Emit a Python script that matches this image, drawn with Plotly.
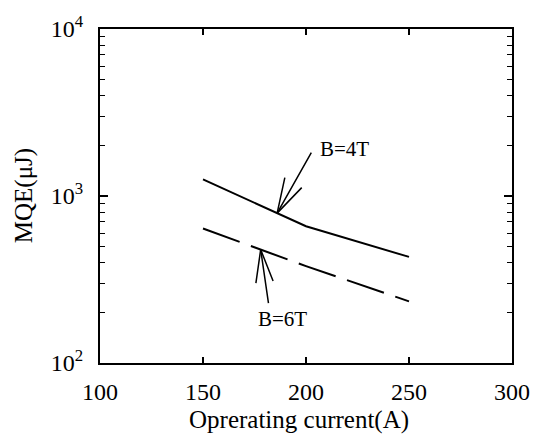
import numpy as np
import plotly.graph_objects as go

# Operating current (A) and minimum quench energy (uJ)
current = [150, 200, 250]
mqe_4t = [1258, 659, 432]
mqe_6t = [639, 380, 234]

x_ticks = [100, 150, 200, 250, 300]
y_major = [100, 1000, 10000]
y_major_text = ["10<sup>2</sup>", "10<sup>3</sup>", "10<sup>4</sup>"]
y_minor = [m * d for d in (100, 1000) for m in range(2, 10)]

FONT = "Liberation Serif"

fig = go.Figure()
fig.add_trace(go.Scatter(x=current, y=mqe_4t, mode="lines",
                         line=dict(color="black", width=2), name="B=4T"))
fig.add_trace(go.Scatter(x=current, y=mqe_6t, mode="lines",
                         line=dict(color="black", width=2, dash="39px,12px"),
                         name="B=6T"))


def on_curve(xs, ys, xq):
    """Point on a curve (log-interpolated) at current xq, in log10 units."""
    return float(np.interp(xq, xs, np.log10(ys)))


def pointer(x, ylog, shaft, barbs):
    """Line arrow with an open two-barb head ending at (x, ylog)."""
    out = []
    for ax, ay in [shaft] + barbs:
        out.append(dict(x=x, y=ylog, xref="x", yref="y", text="", showarrow=True,
                        arrowhead=0, arrowwidth=1.5, arrowcolor="black",
                        ax=ax, ay=ay, standoff=0, startstandoff=0))
    return out


annotations = []
tip4_x = 186
tip4_y = on_curve(current, mqe_4t, tip4_x)
annotations += pointer(tip4_x, tip4_y, (35, -62), [(8, -37), (26, -27)])
annotations.append(dict(x=tip4_x, y=tip4_y, xref="x", yref="y", text="B=4T",
                        showarrow=False, xshift=67, yshift=64,
                        font=dict(family=FONT, size=21, color="black")))

tip6_x = 178
tip6_y = on_curve(current, mqe_6t, tip6_x)
annotations += pointer(tip6_x, tip6_y, (8, 55), [(-5, 35), (13, 33)])
annotations.append(dict(x=tip6_x, y=tip6_y, xref="x", yref="y", text="B=6T",
                        showarrow=False, xshift=22, yshift=-69,
                        font=dict(family=FONT, size=21, color="black")))

# axis titles
annotations.append(dict(x=0.482, y=-0.17, xref="paper", yref="paper",
                        text="Oprerating current(A)", showarrow=False,
                        xanchor="center", yanchor="middle",
                        font=dict(family=FONT, size=25, color="black")))
annotations.append(dict(x=-0.184, y=0.5, xref="paper", yref="paper",
                        text="MQE(μJ)", showarrow=False, textangle=-90,
                        xanchor="center", yanchor="middle",
                        font=dict(family=FONT, size=25, color="black")))

fig.update_layout(
    width=542, height=435,
    margin=dict(l=100, r=29, t=18, b=72),
    paper_bgcolor="white", plot_bgcolor="white",
    showlegend=False,
    font=dict(family=FONT, size=24, color="black"),
    annotations=annotations,
)
fig.update_xaxes(
    range=[100, 300], tickmode="array", tickvals=x_ticks,
    ticks="inside", ticklen=6, tickwidth=1.5, tickcolor="black",
    showline=True, linecolor="black", linewidth=2, mirror="ticks",
    showgrid=False, zeroline=False, ticklabelstandoff=6,
    tickfont=dict(family=FONT, size=24, color="black"),
)
fig.update_yaxes(
    type="log", range=[2, 4], tickmode="array",
    tickvals=y_major, ticktext=y_major_text,
    ticks="inside", ticklen=8, tickwidth=1.5, tickcolor="black",
    minor=dict(tickmode="array", tickvals=y_minor, ticks="inside",
               ticklen=5, tickwidth=1, tickcolor="black"),
    showline=True, linecolor="black", linewidth=2, mirror="ticks",
    showgrid=False, zeroline=False, ticklabelstandoff=10,
    tickfont=dict(family=FONT, size=24, color="black"),
)

fig.write_html("out.html")
